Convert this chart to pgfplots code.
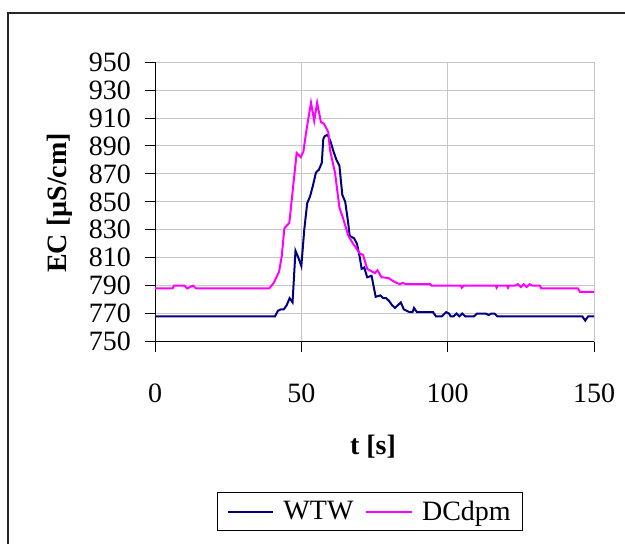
\documentclass[border=0pt]{standalone}
\usepackage{pgfplots}
\pgfplotsset{compat=1.18}
\usepackage{fontspec}
\setmainfont{Liberation Serif}
\definecolor{wtw}{HTML}{000080}
\definecolor{dcd}{HTML}{FF00FF}
\begin{document}
\begin{tikzpicture}
\useasboundingbox (0pt,0pt) rectangle (468.75pt,407.25pt);
\draw[line width=0.8pt, black!85] (6pt,-45pt) -- (6pt,397.5pt) -- (520pt,397.5pt);
\begin{axis}[
  at={(116.25pt,151.125pt)}, anchor=south west,
  scale only axis, width=329.25pt, height=209.5pt,
  xmin=0, xmax=150, ymin=750, ymax=950,
  xtick={0,50,100,150}, ytick={750,770,...,950},
  axis x line=bottom, axis y line=left,
  axis line style={-, line width=0.75pt},
  grid=major, major grid style={gray!45, line width=0.75pt},
  tick align=outside, major tick length=7.5pt,
  tick style={black, line width=0.75pt},
  /pgf/number format/assume math mode=true,
  ticklabel style={font=\fontsize{21}{24}\selectfont},
  xticklabel style={yshift=-21pt},
  yticklabel style={xshift=-7pt},
  legend columns=2,
  legend style={at={(0.49,-0.609)}, anchor=center, draw=black, line width=0.75pt,
    font=\fontsize{21}{24}\selectfont, inner xsep=7pt, inner ysep=4pt,
    /tikz/every odd column/.append style={column sep=5pt},
    /tikz/every even column/.append style={column sep=7pt}},
  legend image code/.code={\draw[#1] (0pt,0pt) -- (34pt,0pt);},
]
\addplot[wtw, line width=1.5pt] coordinates {
(0,768) (41,768) (42,772) (43,773) (44,773) (45,776) (46,781) (47,778) (48,815) (49,810) (50,804)
(51,830) (52,849) (53,854) (54,862) (55,871) (56,873) (57,878) (57.5,895) (58,897) (59,898)
(60,893) (61,886) (62,880) (63,876) (64,855) (65,850) (66,835) (66.5,826) (67,825) (68,824)
(69,820) (70,810) (70.6,802) (71.5,803) (72.5,796) (74,797) (75.4,782) (77,783) (78,781)
(79,781) (80,779) (81,776) (82,774) (83,776) (84,778) (85,773) (86,772) (87,771) (88,771)
(88.5,774) (89.5,771) (95,771) (96,768) (98,768) (99.5,771) (100.5,770) (101,768) (102,768)
(103,770) (104,768) (105,770) (106,768) (109,768) (110,770) (113,770) (114,769) (115,770)
(116,770) (117,768) (146,768) (147,765) (148,768) (150,768)
};
\addlegendentry{WTW}
\addplot[dcd, line width=1.5pt] coordinates {
(0,788) (6,788) (6.5,790) (10,790) (11,788) (12,789) (13,790) (14,788) (39,788) (40.6,792)
(42.4,800) (43.3,811) (44.2,831) (45.9,835) (48.4,885) (49.8,882) (50.7,886) (51.8,902)
(53.3,921) (54.4,908) (55.4,921) (56.7,907) (57.7,906) (59.2,900) (59.8,887) (61.5,871)
(63,846) (64.3,838) (66,826) (67.7,820) (70,813) (71.1,812) (72.5,802) (75.1,799) (76,801)
(77.4,796) (79.7,795.5) (82,792.5) (83.7,791) (84.5,792) (86,791) (94,791) (94.5,790)
(104.5,790) (104.8,788.5) (105.5,790) (116.5,790) (116.7,788.5) (117.2,790) (120.3,790)
(120.6,788.5) (121,790) (123,790) (124,791) (125,789) (126,791) (127,789) (128,791) (129,790)
(131.5,790) (132,788) (144.5,788) (145.2,785.5) (150,785.5)
};
\addlegendentry{DCdpm}
\end{axis}
\node[rotate=90, font=\fontsize{21}{24}\selectfont\bfseries] at (44.5pt,255pt) {EC [µS/cm]};
\node[font=\fontsize{21}{24}\selectfont\bfseries] at (279.75pt,72pt) {t [s]};
\end{tikzpicture}
\end{document}
